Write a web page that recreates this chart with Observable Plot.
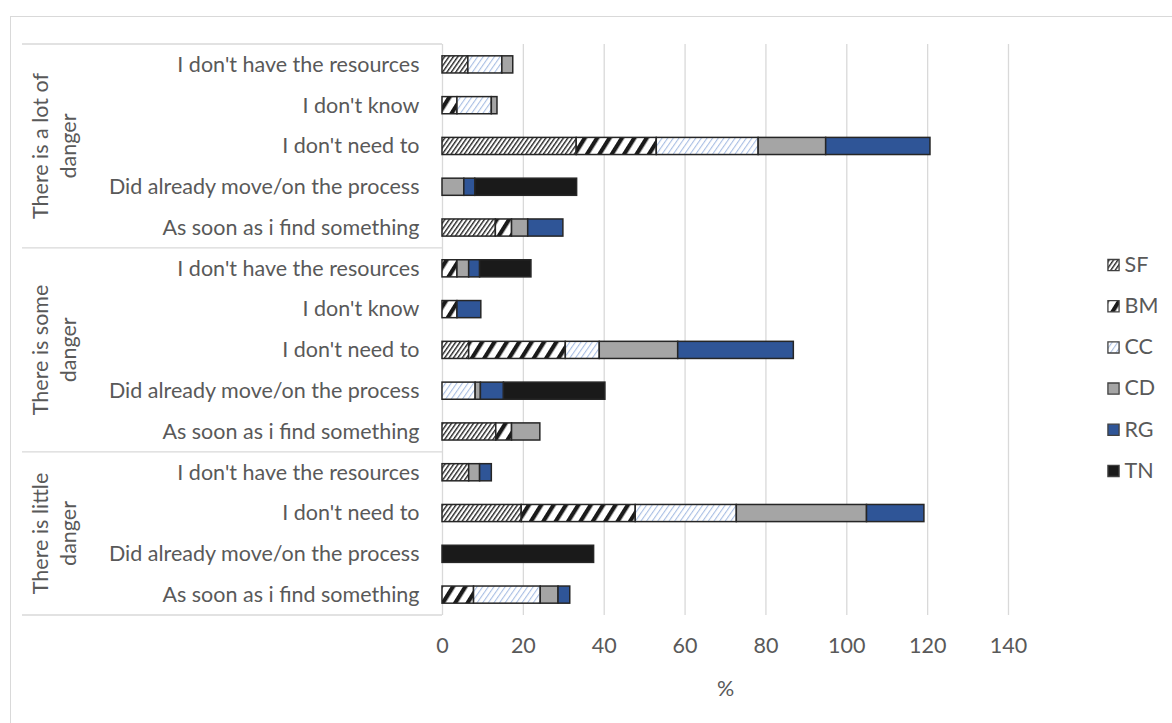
<!DOCTYPE html>
<html>
<head>
<meta charset="utf-8">
<script src="https://cdn.jsdelivr.net/npm/d3@7"></script>
<script src="https://cdn.jsdelivr.net/npm/@observablehq/plot@0.6"></script>
<style>
  html, body { margin: 0; padding: 0; background: #fff; overflow: hidden; }
  body { width: 1172px; height: 723px; position: relative; font-family: Lato, "Open Sans", sans-serif; }
  #chart { position: absolute; left: 0; top: 0; }
  #legend { position: absolute; left: 1096px; top: 244px; }
  #frame { position: absolute; left: 10px; top: 16px; width: 1300px; height: 900px;
           border: 1.5px solid #d9d9d9; box-sizing: border-box; pointer-events: none; }
</style>
</head>
<body>
<!-- fill patterns for the hatched series -->
<svg width="0" height="0" style="position:absolute">
  <defs>
    <pattern id="pat-sf" patternUnits="userSpaceOnUse" width="3.6" height="10" patternTransform="rotate(35)">
      <rect width="3.6" height="10" fill="#fff"/>
      <rect x="0" width="1.4" height="10" fill="#262626"/>
    </pattern>
    <pattern id="pat-bm" patternUnits="userSpaceOnUse" width="10.5" height="10" patternTransform="rotate(32)">
      <rect width="10.5" height="10" fill="#fff"/>
      <rect x="0" width="4.2" height="10" fill="#1a1a1a"/>
    </pattern>
    <pattern id="pat-cc" patternUnits="userSpaceOnUse" width="4.6" height="10" patternTransform="rotate(35)">
      <rect width="4.6" height="10" fill="#fff"/>
      <rect x="0" width="1.1" height="10" fill="#a9bfe4"/>
    </pattern>
  </defs>
</svg>
<div id="chart"></div>
<div id="legend"></div>
<div id="frame"></div>
<script>
// Danger level groups, with the wrapped lines of their labels
const groups = ["There is a lot of danger", "There is some danger", "There is little danger"];
const groupLines = [["There is a lot of", "danger"], ["There is some", "danger"], ["There is little", "danger"]];

// Reasons listed under each group, top to bottom
const reasonsLot = ["I don't have the resources", "I don't know", "I don't need to", "Did already move/on the process", "As soon as i find something"];
const reasonsSome = ["I don't have the resources", "I don't know", "I don't need to", "Did already move/on the process", "As soon as i find something"];
const reasonsLittle = ["I don't have the resources", "I don't need to", "Did already move/on the process", "As soon as i find something"];

const series = ["SF", "BM", "CC", "CD", "RG", "TN"];

// Values (%) per row, rows in the order: lot (5), some (5), little (4)
const SF = [6.4, 0, 33.2, 0, 13.2,   0, 0, 6.6, 0, 13.3,   6.6, 19.6, 0, 0];
const BM = [0, 3.7, 19.8, 0, 4.0,    3.7, 3.7, 23.9, 0, 3.9,   0, 28.2, 0, 7.8];
const CC = [8.4, 8.5, 25.2, 0, 0,    0, 0, 8.4, 8.2, 0,    0, 25.0, 0, 16.5];
const CD = [2.7, 1.4, 16.7, 5.4, 4.0,    2.9, 0, 19.4, 1.3, 7.0,   2.7, 32.2, 0, 4.4];
const RG = [0, 0, 25.8, 2.7, 8.7,    2.7, 5.9, 28.6, 5.7, 0,   2.9, 14.2, 0, 2.9];
const TN = [0, 0, 0, 25.2, 0,    12.7, 0, 0, 25.1, 0,   0, 0, 37.5, 0];

const xTicks = [0, 20, 40, 60, 80, 100, 120, 140];

// Build the row keys (group|reason) and the long table
const reasonLists = [reasonsLot, reasonsSome, reasonsLittle];
const rowKeys = [];
groups.forEach((g, i) => reasonLists[i].forEach(r => rowKeys.push(g + "|" + r)));
const valuesBySeries = {SF, BM, CC, CD, RG, TN};
const table = [];
series.forEach(s => {
  valuesBySeries[s].forEach((v, i) => {
    if (v > 0) table.push({row: rowKeys[i], series: s, value: v});
  });
});

const fills = ["url(#pat-sf)", "url(#pat-bm)", "url(#pat-cc)", "#a5a5a5", "#2f5597", "#1a1a1a"];
const textColor = "#595959";
const font = "Lato, 'Open Sans', sans-serif";
const fontSize = 21.5;

const chart = Plot.plot({
  width: 1172,
  height: 723,
  marginLeft: 442,
  marginRight: 164,
  marginTop: 44,
  marginBottom: 108,
  style: {fontFamily: font, fontSize: fontSize + "px", color: textColor, background: "transparent"},
  x: {domain: [0, 140]},
  y: {domain: rowKeys, paddingInner: 0.58, paddingOuter: 0.29, round: false},
  color: {type: "ordinal", domain: series, range: fills},
  marks: [
    Plot.gridX(xTicks, {stroke: "#d9d9d9", strokeOpacity: 1, strokeWidth: 1.3}),
    Plot.barX(table, Plot.stackX({x: "value", y: "row", fill: "series", stroke: "#262626", strokeWidth: 1.5})),
    Plot.axisX(xTicks, {tickSize: 0, tickPadding: 22, label: "%", labelAnchor: "center", labelArrow: "none", labelOffset: 80}),
    Plot.axisY({tickSize: 0, tickPadding: 23, tickFormat: k => k.split("|")[1], label: null})
  ]
});
document.getElementById("chart").append(chart);

// Group separators and rotated group labels, positioned with the y scale
const ys = chart.scale("y");
const gap = (ys.step - ys.bandwidth) / 2;
const layer = d3.select(chart).append("g");
groups.forEach((g, i) => {
  const keys = rowKeys.filter(k => k.startsWith(g + "|"));
  const top = ys.apply(keys[0]) - gap;
  const bottom = ys.apply(keys[keys.length - 1]) + ys.bandwidth + gap;
  layer.append("line").attr("x1", 22).attr("x2", 442).attr("y1", top).attr("y2", top)
    .attr("stroke", "#d9d9d9").attr("stroke-width", 1.3);
  if (i === groups.length - 1) {
    layer.append("line").attr("x1", 22).attr("x2", 442).attr("y1", bottom).attr("y2", bottom)
      .attr("stroke", "#d9d9d9").attr("stroke-width", 1.3);
  }
  const cy = (top + bottom) / 2;
  groupLines[i].forEach((line, j) => {
    layer.append("text")
      .attr("transform", `translate(${40 + j * 28},${cy}) rotate(-90)`)
      .attr("text-anchor", "middle")
      .attr("dominant-baseline", "central")
      .attr("fill", textColor)
      .attr("font-size", fontSize)
      .text(line);
  });
});

// Legend, one swatch per series
const legend = Plot.plot({
  width: 76,
  height: 247,
  margin: 0,
  style: {fontFamily: font, fontSize: fontSize + "px", color: textColor, background: "transparent"},
  x: {axis: null, domain: [0, 1]},
  y: {type: "band", axis: null, domain: series, padding: 0, round: false},
  color: {type: "ordinal", domain: series, range: fills},
  marks: [
    Plot.dot(series, {y: d => d, frameAnchor: "left", dx: 17, symbol: "square", r: 6.3,
      fill: d => d, stroke: "#404040", strokeWidth: 1.3}),
    Plot.text(series, {y: d => d, frameAnchor: "left", dx: 28, text: d => d, textAnchor: "start", fill: textColor})
  ]
});
document.getElementById("legend").append(legend);
</script>
</body>
</html>
